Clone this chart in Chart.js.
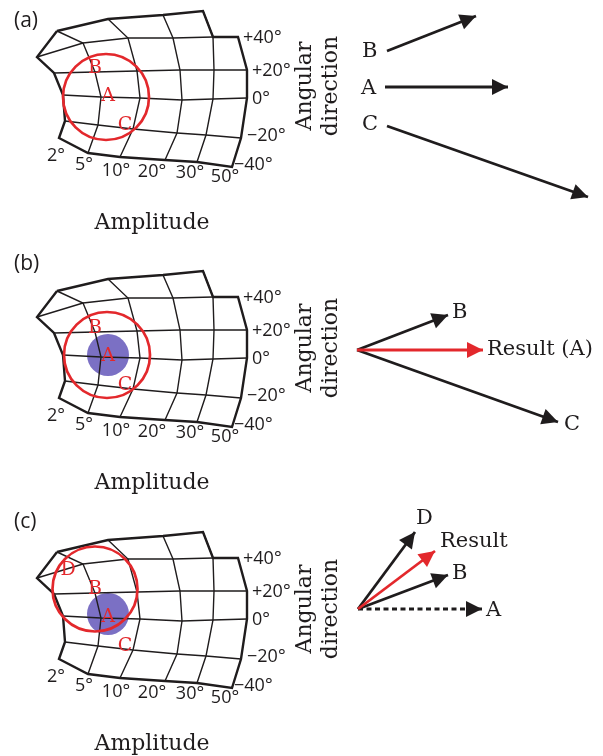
<!DOCTYPE html>
<html>
<head>
<meta charset="utf-8">
<script src="https://cdn.jsdelivr.net/npm/chart.js@4.4.1/dist/chart.umd.min.js"></script>
<style>
  html, body { margin: 0; padding: 0; background: #fff; }
  #wrap { width: 603px; height: 756px; }
</style>
</head>
<body>
<div id="wrap"><canvas id="fig" width="603" height="756"></canvas></div>
<script>
// vertical offset of panels (a), (b), (c)
const panelOffsets = [0, 260, 521];
const panelNames = ['(a)', '(b)', '(c)'];
const panelNameY = [21, 264, 522];

// warped mesh: one row per direction line, one vertex per amplitude column (2°,5°,10°,20°,30°,50°)
const meshRows = [
  [[57, 31], [57, 31], [108, 19], [163, 15], [203, 11], null],
  [[37, 57], [83, 43], [128, 38], [173, 38], [213, 37], [238, 37]],
  [[54, 73], [95, 72], [137, 71], [180, 70], [214, 70], [247, 70]],
  [[63, 95], [101, 97], [140, 98], [182, 100], [213, 99], [247, 98]],
  [[65, 121], [98, 125], [133, 129], [177, 133], [206, 135], [241, 138]],
  [[59, 138], [88, 153], [120, 157], [165, 160], [197, 162], [232, 167]]
];

const amplitudeTicks = ['2°', '5°', '10°', '20°', '30°', '50°'];
const amplitudeTickAt = [[56, 156], [84, 165], [116, 171], [152, 172], [190, 173], [225, 177]];
const directionTicks = ['+40°', '+20°', '0°', '−20°', '−40°'];
const directionTickAt = [[243, 38], [252, 71], [252, 99], [247, 136], [234, 165]];

// red receptive field and blue active spot, per panel (x, y, radius)
const fieldCircles = [[106, 97, 43], [107, 95, 43], [95, 68, 42.5]];
const activeSpots = [null, [108, 95, 21], [108, 93, 21]];
const fieldLetters = [['B', 'A', 'C'], ['B', 'A', 'C'], ['D', 'B', 'A', 'C']];
const letterAt = { A: [108, 96], B: [95, 68], C: [125, 125], D: [68, 49] };

// vectors [x0, y0, x1, y1]
const arrowsA = [[387, 51, 476, 16], [385, 87, 508, 87], [387, 126, 588, 197]];
const arrowsB = [[357, 350, 448, 315], [357, 350, 483, 350], [357, 350, 558, 422]];
const arrowsC = [[358, 609, 415, 532], [358, 609, 435, 551], [358, 609, 448, 575], [358, 609, 482, 609]];
const kindsA = ['plain', 'plain', 'plain'];
const kindsB = ['plain', 'result', 'plain'];
const kindsC = ['plain', 'result', 'plain', 'dashed'];

const vecLabelsA = ['B', 'A', 'C'];
const vecLabelsAAt = [[362, 52], [361, 89], [362, 125]];
const vecLabelsB = ['B', 'Result (A)', 'C'];
const vecLabelsBAt = [[452, 313], [487, 350], [564, 425]];
const vecLabelsC = ['D', 'Result', 'B', 'A'];
const vecLabelsCAt = [[416, 519], [440, 542], [452, 574], [486, 611]];

const directionTitleY = [86, 348, 609];

const INK = '#1f1c1d';
const RED = '#e3282c';
const BLUE = '#7b70c4';
const SERIF = '"DejaVu Serif", serif';
const SANS = '"Open Sans", sans-serif';

const pts = (list, dy) => list.map(p => ({ x: p[0], y: p[1] + dy }));

function lineSet(data, color, width, order, extra) {
  return Object.assign({
    type: 'line', data: data, borderColor: color, borderWidth: width,
    pointRadius: 0, tension: 0, fill: false, order: order,
    borderJoinStyle: 'miter', borderCapStyle: 'butt'
  }, extra || {});
}

// outline of the mesh, walked round once
const outline = [
  ...meshRows[0].slice(1, 5),
  meshRows[1][4],
  ...meshRows.slice(1).map(r => r[5]),
  ...meshRows[5].slice(0, 5).reverse(),
  ...meshRows.slice(0, 5).map(r => r[0]).reverse()
];

const datasets = [];
panelOffsets.forEach((dy, k) => {
  const spot = activeSpots[k];
  if (spot) {
    datasets.push({ type: 'bubble', data: [{ x: spot[0], y: spot[1] + dy, r: spot[2] }],
      backgroundColor: BLUE, borderWidth: 0, order: 6 });
  }
  meshRows.slice(1, 5).forEach(row => datasets.push(lineSet(pts(row, dy), INK, 1.4, 5)));
  for (let c = 1; c < 5; c++) {
    datasets.push(lineSet(pts(meshRows.map(r => r[c]).filter(Boolean), dy), INK, 1.4, 5));
  }
  datasets.push(lineSet(pts(outline, dy), INK, 2.4, 4));
  const f = fieldCircles[k];
  datasets.push({ type: 'bubble', data: [{ x: f[0], y: f[1] + dy, r: f[2] }],
    backgroundColor: 'rgba(0,0,0,0)', borderColor: RED, borderWidth: 2.7, order: 3 });
});

[[arrowsA, kindsA], [arrowsB, kindsB], [arrowsC, kindsC]].forEach(([arrows, kinds]) => {
  arrows.forEach((a, i) => {
    const kind = kinds[i];
    datasets.push(lineSet([{ x: a[0], y: a[1] }, { x: a[2], y: a[3] }],
      kind === 'result' ? RED : INK, 2.8, kind === 'result' ? 1 : 2,
      { arrowHead: true, borderDash: kind === 'dashed' ? [5, 3.5] : [] }));
  });
});

const drawingPlugin = {
  id: 'drawing',
  afterDatasetsDraw(chart) {
    const ctx = chart.ctx, xs = chart.scales.x, ys = chart.scales.y;

    // arrow heads at the last point of each vector
    chart.data.datasets.forEach((ds, i) => {
      if (!ds.arrowHead) return;
      const pts = chart.getDatasetMeta(i).data;
      const p0 = pts[pts.length - 2], p1 = pts[pts.length - 1];
      const ang = Math.atan2(p1.y - p0.y, p1.x - p0.x);
      const len = 16, half = 8;
      ctx.save();
      ctx.translate(p1.x, p1.y);
      ctx.rotate(ang);
      ctx.beginPath();
      ctx.moveTo(0, 0);
      ctx.lineTo(-len, -half);
      ctx.lineTo(-len, half);
      ctx.closePath();
      ctx.fillStyle = ds.borderColor;
      ctx.fill();
      ctx.restore();
    });

    const put = (txt, x, y, font, color, align) => {
      ctx.font = font;
      ctx.fillStyle = color;
      ctx.textAlign = align || 'left';
      ctx.textBaseline = 'middle';
      ctx.fillText(txt, xs.getPixelForValue(x), ys.getPixelForValue(y));
    };

    panelOffsets.forEach((dy, k) => {
      put(panelNames[k], 14, panelNameY[k], '21px ' + SANS, INK);
      amplitudeTicks.forEach((t, i) => put(t, amplitudeTickAt[i][0], amplitudeTickAt[i][1] + dy, '18px ' + SANS, INK, 'center'));
      directionTicks.forEach((t, i) => put(t, directionTickAt[i][0], directionTickAt[i][1] + dy, '18px ' + SANS, INK));
      fieldLetters[k].forEach(l => put(l, letterAt[l][0], letterAt[l][1] + dy, '19px ' + SERIF, RED, 'center'));

      ctx.font = '22px ' + SERIF;
      ctx.fillStyle = INK;
      ctx.textAlign = 'center';
      ctx.textBaseline = 'alphabetic';
      ctx.fillText('Amplitude', xs.getPixelForValue(152), ys.getPixelForValue(229 + dy));

      ctx.save();
      ctx.translate(xs.getPixelForValue(318), ys.getPixelForValue(directionTitleY[k]));
      ctx.rotate(-Math.PI / 2);
      ctx.textBaseline = 'middle';
      ctx.fillText('Angular', 0, -13);
      ctx.fillText('direction', 0, 13);
      ctx.restore();
    });

    [[vecLabelsA, vecLabelsAAt], [vecLabelsB, vecLabelsBAt], [vecLabelsC, vecLabelsCAt]].forEach(([names, at]) => {
      names.forEach((n, i) => put(n, at[i][0], at[i][1], '21px ' + SERIF, INK));
    });
  }
};

new Chart(document.getElementById('fig'), {
  data: { datasets: datasets },
  options: {
    responsive: false,
    animation: false,
    events: [],
    layout: { padding: 0, autoPadding: false },
    plugins: { legend: { display: false }, tooltip: { enabled: false } },
    scales: {
      x: { type: 'linear', min: 0, max: 603, display: false },
      y: { type: 'linear', min: 0, max: 756, reverse: true, display: false }
    }
  },
  plugins: [drawingPlugin]
});
</script>
</body>
</html>
